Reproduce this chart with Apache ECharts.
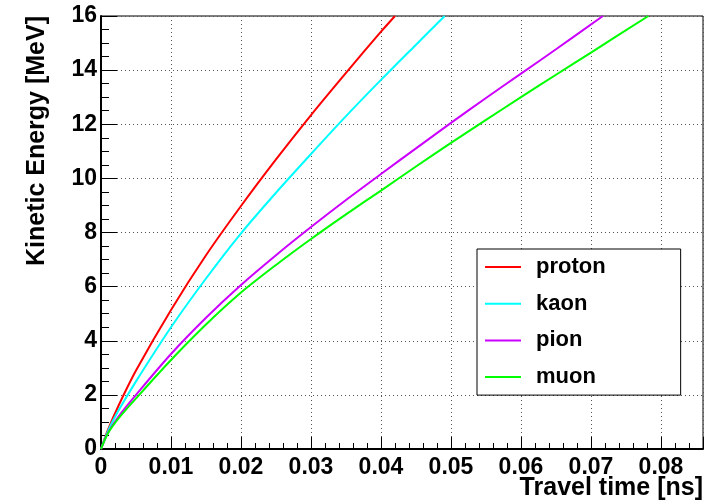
<!DOCTYPE html>
<html>
<head>
<meta charset="utf-8">
<script src="https://cdn.jsdelivr.net/npm/echarts@6/dist/echarts.min.js"></script>
<style>
  html, body { margin: 0; padding: 0; background: #fff; }
  #chart { width: 725px; height: 501px; }
</style>
</head>
<body>
<div id="chart"></div>
<script>
// travel time [ns] / kinetic energy [MeV]
const protonT = [0, 0.001, 0.0025, 0.005, 0.01, 0.015, 0.02, 0.025, 0.03, 0.035, 0.04, 0.042];
const protonE = [0, 0.72, 1.6, 2.9, 5.14, 7.16, 8.98, 10.7, 12.34, 13.9, 15.42, 16];

const kaonT = [0, 0.001, 0.0025, 0.005, 0.01, 0.015, 0.02, 0.025, 0.03, 0.035, 0.04, 0.045, 0.0491];
const kaonE = [0, 0.67, 1.42, 2.5, 4.5, 6.3, 7.97, 9.47, 10.9, 12.3, 13.64, 14.94, 16];

const pionT = [0, 0.001, 0.0025, 0.005, 0.01, 0.015, 0.02, 0.025, 0.03, 0.035, 0.04, 0.045, 0.05, 0.055, 0.06, 0.065, 0.0717];
const pionE = [0, 0.6, 1.2, 2, 3.51, 4.85, 6.06, 7.16, 8.2, 9.2, 10.16, 11.11, 12.05, 12.97, 13.87, 14.77, 16];

const muonT = [0, 0.001, 0.0025, 0.005, 0.01, 0.015, 0.02, 0.025, 0.03, 0.035, 0.04, 0.045, 0.05, 0.055, 0.06, 0.065, 0.07, 0.0782];
const muonE = [0, 0.58, 1.13, 1.87, 3.29, 4.6, 5.78, 6.8, 7.76, 8.67, 9.55, 10.44, 11.31, 12.16, 13.0, 13.83, 14.65, 16];

const names = ['proton', 'kaon', 'pion', 'muon'];
const colors = ['#ff0000', '#00ffff', '#cc00ff', '#00ff00'];

function pairs(t, e) {
  return t.map((v, i) => [v, e[i]]);
}
const allData = [pairs(protonT, protonE), pairs(kaonT, kaonE), pairs(pionT, pionE), pairs(muonT, muonE)];

const font = 'Liberation Sans, Arial, Helvetica, sans-serif';

const chart = echarts.init(document.getElementById('chart'));
const series = names.map((n, i) => ({
  name: n,
  type: 'line',
  data: allData[i],
  showSymbol: false,
  smooth: 0.3,
  lineStyle: { color: colors[i], width: 2 },
  itemStyle: { color: colors[i] },
  animation: false
}));

chart.setOption({
  animation: false,
  backgroundColor: '#fff',
  grid: {
    left: 101, top: 16, right: 22, bottom: 52,
    show: true, borderColor: '#000', borderWidth: 1,
    outerBoundsMode: 'none'
  },
  legend: {
    left: 477, top: 249,
    orient: 'vertical',
    data: names,
    icon: 'rect',
    itemWidth: 36, itemHeight: 2,
    itemGap: 14.7,
    padding: [7, 75, 7, 8],
    backgroundColor: '#fff',
    borderColor: '#000', borderWidth: 1, borderRadius: 0,
    textStyle: { fontFamily: font, fontWeight: 'bold', fontSize: 22, color: '#000', lineHeight: 22, padding: [0, 0, 0, 10] }
  },
  xAxis: {
    type: 'value', min: 0, max: 0.086, interval: 0.01,
    name: 'Travel time [ns]',
    nameLocation: 'end', nameGap: 0, nameMoveOverlap: false,
    nameTextStyle: { fontFamily: font, fontWeight: 'bold', fontSize: 25, color: '#000', align: 'right', verticalAlign: 'top', padding: [27, 0, 0, 0] },
    axisLine: { onZero: false, lineStyle: { color: '#000', width: 2 } },
    axisTick: { inside: true, length: 12, lineStyle: { color: '#000', width: 1 } },
    minorTick: { show: true, splitNumber: 5, length: 6, lineStyle: { color: '#000', width: 1 } },
    axisLabel: {
      fontFamily: font, fontWeight: 'bold', fontSize: 23, color: '#000', margin: 7,
      showMaxLabel: false,
      formatter: v => (v === 0 ? '0' : v.toFixed(2))
    },
    splitLine: { show: true, lineStyle: { color: '#555', type: [1, 3], width: 1 } }
  },
  yAxis: {
    type: 'value', min: 0, max: 16, interval: 2,
    name: 'Kinetic Energy [MeV]',
    nameLocation: 'end', nameGap: 0, nameRotate: 90, nameMoveOverlap: false,
    nameTextStyle: { fontFamily: font, fontWeight: 'bold', fontSize: 25, color: '#000', align: 'right', verticalAlign: 'bottom', padding: [0, 0, 51, 0] },
    axisLine: { onZero: false, lineStyle: { color: '#000', width: 2 } },
    axisTick: { inside: true, length: 16, lineStyle: { color: '#000', width: 1 } },
    minorTick: { show: true, splitNumber: 4, length: 8, lineStyle: { color: '#000', width: 1 } },
    axisLabel: { fontFamily: font, fontWeight: 'bold', fontSize: 23, color: '#000', margin: 4 },
    splitLine: { show: true, lineStyle: { color: '#555', type: [1, 3], width: 1 } }
  },
  series: series
});
</script>
</body>
</html>
